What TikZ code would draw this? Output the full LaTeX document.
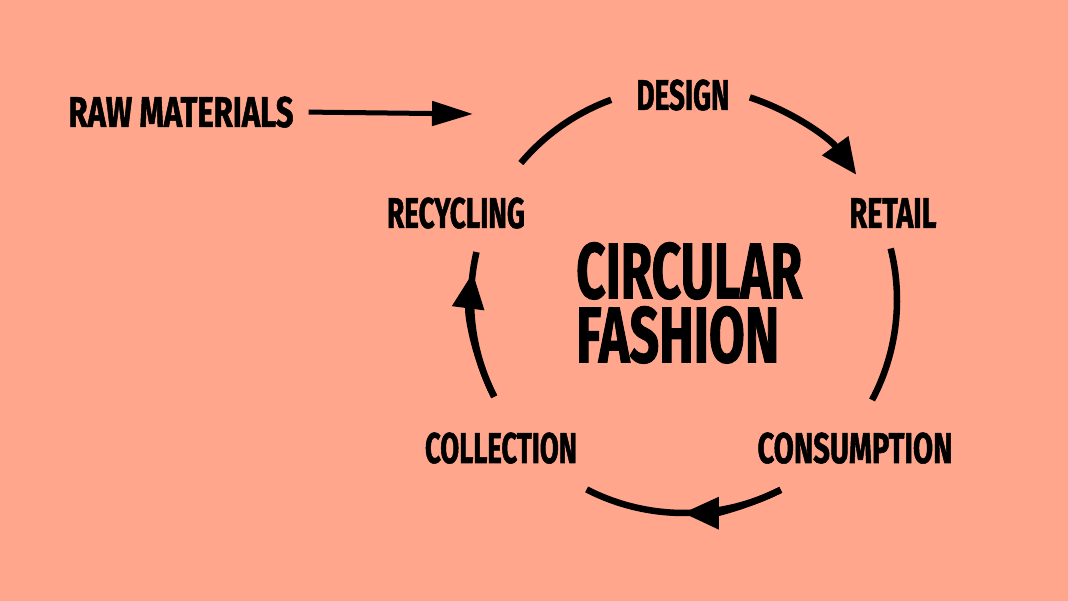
\documentclass[tikz,border=0pt]{standalone}
\usepackage{fontspec}
\usepackage{graphicx}
\usetikzlibrary{arrows.meta}
\newfontfamily\labfont{Fira Sans}[FakeStretch=0.72,FakeBold=1.2]
\definecolor{bg}{RGB}{255,166,140}
\newcommand\fw[2]{\resizebox{#1}{\height}{#2}}
\begin{document}
\begin{tikzpicture}[x=1pt,y=1pt,
 lab/.style={inner sep=0pt, anchor=base, font=\labfont\bfseries\fontsize{43}{43}\selectfont},
 big/.style={inner sep=0pt, anchor=north west, align=left, font=\labfont\bfseries\fontsize{79}{64}\selectfont},
 cyc/.style={line width=6.5pt},
 tip/.style={-{Triangle[length=36pt,width=31pt]}}
]
\fill[bg] (0,0) rectangle (1068,601);
\useasboundingbox (0,0) rectangle (1068,601);
\coordinate (c) at (684,301);
\node[lab] (raw) at (181,474) {\fw{225pt}{RAW MATERIALS}};
\node[lab] (design) at (683,491) {\fw{93pt}{DESIGN}};
\node[lab] (retail) at (893,373) {\fw{87pt}{RETAIL}};
\node[lab] (recyc) at (456,373) {\fw{138pt}{RECYCLING}};
\node[lab] (collect) at (501,138) {\fw{152pt}{COLLECTION}};
\node[lab] (consum) at (855,138) {\fw{195pt}{CONSUMPTION}};
\node[big] (title) at (576,359) {\fw{226pt}{CIRCULAR}\\\fw{203pt}{FASHION}};
\coordinate (rawend) at (473,487);
\draw[line width=5pt,-{Triangle[length=41pt,width=24pt]}] ([xshift=15pt]raw.east) -- (rawend);
\draw[cyc] ([shift={(140:213)}]c) arc[start angle=140,end angle=110,radius=213];
\draw[cyc,tip] ([shift={(72:213)}]c) arc[start angle=72,end angle=36,radius=213];
\draw[cyc] ([shift={(14:213)}]c) arc[start angle=14,end angle=-28,radius=213];
\draw[cyc] ([shift={(-63:213)}]c) arc[start angle=-63,end angle=-117.2,radius=213];
\draw[cyc,tip] ([shift={(-63:213)}]c) arc[start angle=-63,end angle=-90.3,radius=213];
\draw[cyc] ([shift={(207:213)}]c) arc[start angle=207,end angle=167,radius=213];
\draw[cyc,tip] ([shift={(207:213)}]c) arc[start angle=207,end angle=172.6,radius=213];
\end{tikzpicture}
\end{document}
